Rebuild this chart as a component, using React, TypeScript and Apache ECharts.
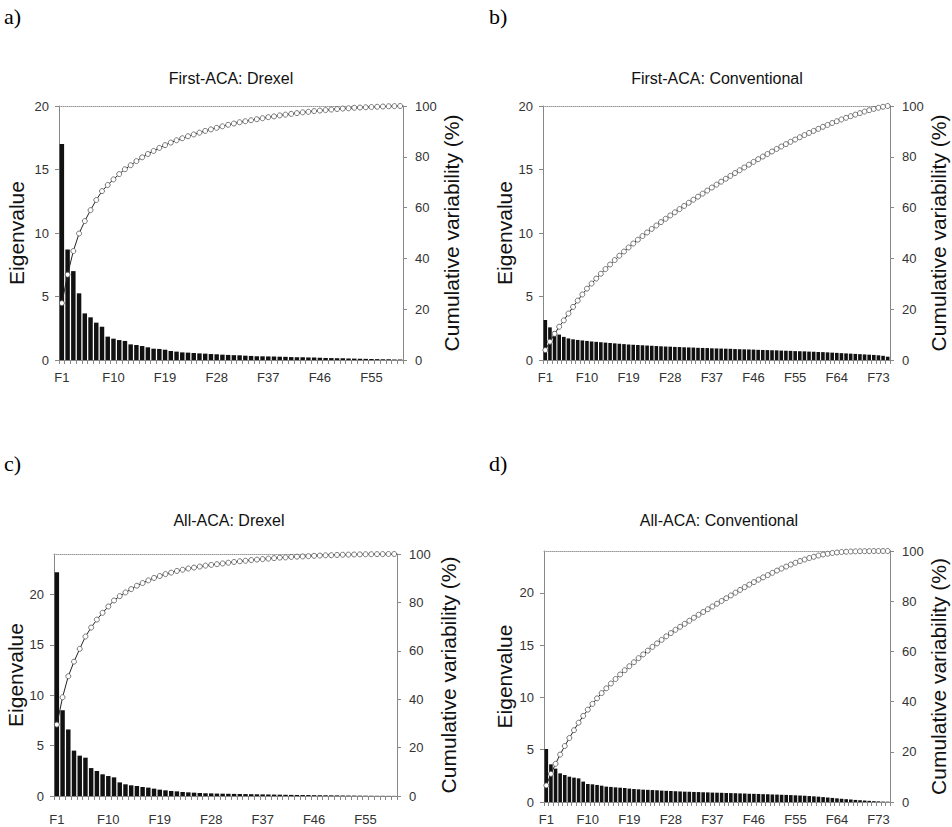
import React, { useEffect, useRef } from "react";
import * as echarts from "echarts";

const catsA = Array.from({ length: 60 }, (_, i) => `F${i + 1}`);
const catsB = Array.from({ length: 75 }, (_, i) => `F${i + 1}`);
const catsC = Array.from({ length: 60 }, (_, i) => `F${i + 1}`);
const catsD = Array.from({ length: 75 }, (_, i) => `F${i + 1}`);

const eigenA = [17.0, 8.7, 7.0, 5.25, 3.67, 3.36, 2.94, 2.62, 1.84, 1.68, 1.57, 1.5, 1.23, 1.18, 1.1, 1.0, 0.89, 0.87, 0.81, 0.71, 0.66, 0.6, 0.58, 0.55, 0.52, 0.5, 0.47, 0.45, 0.42, 0.4, 0.38, 0.37, 0.34, 0.32, 0.3, 0.29, 0.28, 0.27, 0.26, 0.25, 0.23, 0.22, 0.21, 0.2, 0.19, 0.17, 0.16, 0.15, 0.14, 0.13, 0.12, 0.11, 0.1, 0.09, 0.08, 0.07, 0.06, 0.05, 0.04, 0.03];
const cumA = [22.4, 33.6, 42.9, 49.8, 54.7, 59.0, 63.0, 66.5, 68.9, 71.1, 73.2, 75.1, 76.7, 78.3, 79.8, 81.1, 82.3, 83.5, 84.6, 85.6, 86.5, 87.3, 88.1, 88.8, 89.5, 90.2, 90.8, 91.4, 92.0, 92.6, 93.1, 93.6, 94.0, 94.4, 94.8, 95.2, 95.6, 95.9, 96.3, 96.6, 96.9, 97.2, 97.5, 97.7, 98.0, 98.2, 98.4, 98.6, 98.8, 99.0, 99.1, 99.3, 99.4, 99.5, 99.6, 99.7, 99.8, 99.9, 99.95, 100];

const eigenB = [3.15, 2.57, 2.25, 2.0, 1.82, 1.7, 1.63, 1.58, 1.54, 1.5, 1.46, 1.43, 1.4, 1.37, 1.34, 1.31, 1.28, 1.25, 1.22, 1.2, 1.18, 1.16, 1.14, 1.12, 1.1, 1.08, 1.06, 1.05, 1.03, 1.02, 1.0, 0.99, 0.98, 0.96, 0.95, 0.94, 0.92, 0.91, 0.9, 0.89, 0.88, 0.86, 0.85, 0.84, 0.83, 0.82, 0.8, 0.79, 0.78, 0.77, 0.76, 0.74, 0.73, 0.72, 0.7, 0.69, 0.68, 0.66, 0.65, 0.63, 0.62, 0.6, 0.58, 0.56, 0.54, 0.52, 0.5, 0.48, 0.46, 0.44, 0.42, 0.4, 0.37, 0.33, 0.26];
const cumB = [3.9, 7.2, 10.3, 13.1, 15.6, 18.3, 20.9, 23.4, 25.8, 28.1, 30.1, 32.05, 33.95, 35.8, 37.6, 39.35, 41.05, 42.7, 44.3, 45.85, 47.35, 48.8, 50.2, 51.6, 52.95, 54.3, 55.6, 56.9, 58.15, 59.4, 60.65, 61.9, 63.1, 64.3, 65.5, 66.7, 67.9, 69.05, 70.2, 71.35, 72.5, 73.6, 74.7, 75.8, 76.9, 78.0, 79.05, 80.1, 81.1, 82.1, 83.1, 84.05, 85.0, 85.9, 86.8, 87.7, 88.55, 89.4, 90.2, 91.0, 91.8, 92.55, 93.3, 94.0, 94.7, 95.35, 96.0, 96.6, 97.2, 97.8, 98.35, 98.85, 99.3, 99.7, 100];

const eigenC = [22.2, 8.5, 6.6, 4.5, 4.0, 3.8, 2.77, 2.48, 2.15, 1.98, 1.85, 1.35, 1.16, 1.06, 0.99, 0.89, 0.83, 0.73, 0.63, 0.56, 0.5, 0.46, 0.4, 0.36, 0.33, 0.3, 0.27, 0.26, 0.24, 0.23, 0.22, 0.21, 0.2, 0.19, 0.18, 0.17, 0.16, 0.15, 0.14, 0.13, 0.12, 0.11, 0.1, 0.095, 0.09, 0.08, 0.075, 0.07, 0.065, 0.06, 0.05, 0.045, 0.04, 0.035, 0.03, 0.025, 0.02, 0.02, 0.015, 0.01];
const cumC = [29.5, 40.8, 49.5, 55.5, 60.8, 65.9, 69.6, 72.9, 75.7, 78.3, 80.8, 82.6, 84.1, 85.5, 86.9, 88.0, 89.1, 90.1, 90.9, 91.7, 92.3, 93.0, 93.5, 94.0, 94.4, 94.8, 95.2, 95.5, 95.8, 96.1, 96.4, 96.7, 97.0, 97.2, 97.5, 97.7, 97.9, 98.1, 98.3, 98.5, 98.6, 98.8, 98.9, 99.0, 99.1, 99.25, 99.35, 99.45, 99.5, 99.6, 99.7, 99.75, 99.8, 99.85, 99.9, 99.92, 99.95, 99.97, 99.99, 100];

const eigenD = [5.07, 3.6, 3.19, 2.74, 2.58, 2.42, 2.33, 2.26, 1.95, 1.72, 1.69, 1.63, 1.56, 1.47, 1.44, 1.4, 1.37, 1.34, 1.28, 1.24, 1.21, 1.18, 1.16, 1.14, 1.12, 1.09, 1.07, 1.05, 1.03, 1.01, 0.99, 0.98, 0.96, 0.95, 0.93, 0.92, 0.9, 0.89, 0.88, 0.86, 0.85, 0.84, 0.82, 0.81, 0.79, 0.78, 0.77, 0.75, 0.74, 0.72, 0.71, 0.69, 0.68, 0.66, 0.64, 0.62, 0.6, 0.57, 0.54, 0.51, 0.47, 0.43, 0.39, 0.35, 0.31, 0.27, 0.24, 0.2, 0.17, 0.14, 0.11, 0.08, 0.06, 0.04, 0.03];
const cumD = [6.6, 11.2, 15.2, 18.9, 22.3, 25.5, 28.6, 31.6, 34.3, 36.8, 39.1, 41.3, 43.4, 45.3, 47.2, 49.0, 50.8, 52.5, 54.1, 55.7, 57.3, 58.8, 60.3, 61.8, 63.2, 64.6, 66.0, 67.3, 68.6, 69.8, 71.0, 72.2, 73.4, 74.6, 75.7, 76.8, 77.9, 79.0, 80.1, 81.2, 82.3, 83.4, 84.5, 85.6, 86.6, 87.6, 88.6, 89.5, 90.4, 91.3, 92.2, 93.0, 93.8, 94.6, 95.3, 96.0, 96.6, 97.2, 97.7, 98.2, 98.6, 98.9, 99.2, 99.4, 99.6, 99.7, 99.8, 99.85, 99.9, 99.93, 99.95, 99.97, 99.98, 99.99, 100];

const panelTitles = ["First-ACA: Drexel", "First-ACA: Conventional", "All-ACA: Drexel", "All-ACA: Conventional"];
const panelLetters = ["a)", "b)", "c)", "d)"];
const leftTicks = [0, 5, 10, 15, 20];

const SANS = "'Liberation Sans', Arial, sans-serif";
const SERIF = "'Liberation Serif', 'Times New Roman', serif";

export default function App() {
  const ref = useRef<HTMLDivElement>(null);
  useEffect(() => {
    if (!ref.current) return;
    const chart = echarts.init(ref.current, null, { renderer: "svg" });
    const panels = [
      { cats: catsA, eigen: eigenA, cum: cumA, yMax: 20, grid: { left: 59, top: 106, width: 344, height: 254 }, xMargin: 11, lGap: 32, rGap: 38, tx: 231, ty: 70, lx: 4, ly: 5 },
      { cats: catsB, eigen: eigenB, cum: cumB, yMax: 20, grid: { left: 543, top: 106, width: 347, height: 254 }, xMargin: 11, lGap: 28, rGap: 38, tx: 717, ty: 70, lx: 489, ly: 5 },
      { cats: catsC, eigen: eigenC, cum: cumC, yMax: 24, grid: { left: 54, top: 554, width: 343, height: 242 }, xMargin: 17, lGap: 27, rGap: 41, tx: 229, ty: 512, lx: 4, ly: 452 },
      { cats: catsD, eigen: eigenD, cum: cumD, yMax: 24, grid: { left: 544, top: 551, width: 346, height: 251 }, xMargin: 11, lGap: 29, rGap: 37, tx: 719, ty: 512, lx: 489, ly: 452 },
    ];
    const labelStyle = { color: "#333", fontSize: 13, fontFamily: SANS };
    const axisColor = "#888";
    const option: any = {
      animation: false,
      backgroundColor: "#fff",
      title: [
        ...panels.map((p, i) => ({
          text: panelLetters[i], left: p.lx, top: p.ly, padding: 0,
          textStyle: { fontFamily: SERIF, fontSize: 22, fontWeight: "normal", color: "#000" },
        })),
        ...panels.map((p, i) => ({
          text: panelTitles[i], left: p.tx, top: p.ty, padding: 0, textAlign: "center",
          textStyle: { fontFamily: SANS, fontSize: 16, fontWeight: "normal", color: "#111" },
        })),
      ],
      grid: panels.map((p) => ({ ...p.grid, containLabel: false, outerBoundsMode: "none", show: false })),
      xAxis: panels.flatMap((p, i) => [
        {
          type: "category", gridIndex: i, position: "bottom", data: p.cats,
          axisLine: { show: true, onZero: false, lineStyle: { color: axisColor, width: 1 } },
          axisTick: { show: true, interval: 0, length: 4, alignWithLabel: false, lineStyle: { color: axisColor } },
          axisLabel: { ...labelStyle, interval: 8, margin: p.xMargin },
          splitLine: { show: false },
        },
        {
          type: "category", gridIndex: i, position: "top", data: p.cats,
          axisLine: { show: true, onZero: false, lineStyle: { color: "#999", width: 1, type: "dotted" } },
          axisTick: { show: false }, axisLabel: { show: false }, splitLine: { show: false },
        },
      ]),
      yAxis: panels.flatMap((p, i) => [
        {
          type: "value", gridIndex: i, position: "left", min: 0, max: p.yMax, interval: 5,
          axisLine: { show: true, lineStyle: { color: axisColor, width: 1 } },
          axisTick: { show: true, length: 4, lineStyle: { color: axisColor }, customValues: leftTicks },
          axisLabel: { ...labelStyle, margin: 10, customValues: leftTicks },
          splitLine: { show: false },
          name: "Eigenvalue", nameLocation: "middle", nameRotate: 90, nameGap: p.lGap,
          nameTextStyle: { fontFamily: SANS, fontSize: 21, color: "#111" },
        },
        {
          type: "value", gridIndex: i, position: "right", min: 0, max: 100, interval: 20,
          axisLine: { show: true, lineStyle: { color: axisColor, width: 1 } },
          axisTick: { show: true, length: 4, lineStyle: { color: axisColor } },
          axisLabel: { ...labelStyle, margin: 12 },
          splitLine: { show: false },
          name: "Cumulative variability (%)", nameLocation: "middle", nameRotate: 90, nameGap: p.rGap,
          nameTextStyle: { fontFamily: SANS, fontSize: 21, color: "#111" },
        },
      ]),
      series: panels.flatMap((p, i) => [
        {
          type: "bar", xAxisIndex: i * 2, yAxisIndex: i * 2, data: p.eigen,
          barCategoryGap: "22%", itemStyle: { color: "#111" }, silent: true, z: 2,
        },
        {
          type: "line", xAxisIndex: i * 2, yAxisIndex: i * 2 + 1, data: p.cum,
          symbol: "circle", symbolSize: 5, showAllSymbol: true,
          lineStyle: { color: "#222", width: 1 },
          itemStyle: { color: "#fff", borderColor: "#555", borderWidth: 0.8 },
          silent: true, z: 3,
        },
      ]),
    };
    chart.setOption(option);
    return () => chart.dispose();
  }, []);
  return (
    <div
      ref={ref}
      style={{ position: "absolute", left: 0, top: 0, width: 952, height: 827, background: "#fff" }}
    />
  );
}
